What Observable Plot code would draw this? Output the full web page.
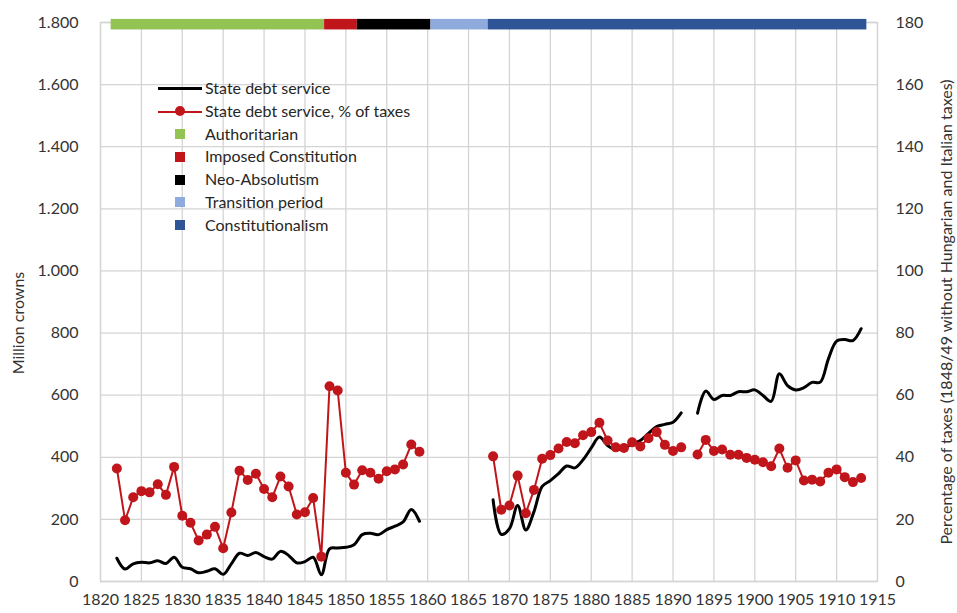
<!DOCTYPE html>
<html>
<head>
<meta charset="utf-8">
<script src="https://cdn.jsdelivr.net/npm/d3@7"></script>
<script src="https://cdn.jsdelivr.net/npm/@observablehq/plot@0.6"></script>
<style>
  html, body { margin: 0; padding: 0; background: #fff; }
  #wrap { position: relative; width: 957px; height: 613px; font-family: Lato, "Open Sans", sans-serif; }
  #legend { position: absolute; left: 158px; top: 77px; font-size: 16px; color: #262626; line-height: 22.8px; }
  .row { display: flex; align-items: center; height: 22.8px; }
  .sw { width: 47px; height: 22.8px; position: relative; flex: none; }
  .sq { position: absolute; left: 17px; top: 6.4px; width: 10px; height: 10px; }
  .ln { position: absolute; left: 0; width: 44px; top: 10.4px; }
  .dt { position: absolute; left: 17px; top: 6.4px; width: 10px; height: 10px; border-radius: 50%; }
</style>
</head>
<body>
<div id="wrap"><div id="legend"></div></div>
<script>
// ---------- data ----------
const years1 = d3.range(1822, 1860);   // 1822–1859
const years2 = d3.range(1868, 1914);   // 1868–1913

// State debt service, million crowns
const debt1 = [75, 40, 57, 62, 60, 67, 58, 78, 46, 41, 28, 33, 41, 23, 57, 91, 84, 93, 80, 72,
  97, 84, 60, 64, 78, 22, 105, 108, 110, 118, 151, 155, 151, 167, 178, 192, 232, 194];
const debt2 = [263, 152, 170, 245, 166, 225, 306, 325, 347, 372, 366, 392, 430, 465, 438, 424,
  430, 443, 454, 477, 499, 506, 513, 543, NaN, 542, 613, 586, 599, 599, 611, 611, 617, 599, 580,
  669, 631, 617, 624, 641, 642, 717, 774, 779, 776, 814];

// State debt service, % of taxes
const pct1 = [36.4, 19.7, 27.1, 29.1, 28.7, 31.3, 27.9, 36.9, 21.2, 18.9, 13.2, 15.1, 17.6, 10.7,
  22.2, 35.7, 32.7, 34.7, 29.8, 27.1, 33.8, 30.6, 21.6, 22.3, 26.9, 8.0, 62.9, 61.5, 35.0, 31.2,
  35.8, 35.0, 33.1, 35.5, 36.1, 37.7, 44.1, 41.8];
const pct2 = [40.3, 23.1, 24.5, 34.1, 22.0, 29.5, 39.5, 40.7, 42.8, 44.9, 44.5, 47.1, 48.1, 51.1,
  45.4, 43.2, 43.0, 44.8, 43.5, 46.1, 48.1, 44.0, 42.0, 43.2, NaN, 40.9, 45.6, 42.0, 42.5, 40.8,
  40.8, 39.8, 39.2, 38.4, 37.1, 42.8, 36.6, 39.0, 32.5, 32.8, 32.2, 35.0, 36.1, 33.6, 32.0, 33.3];

// Political periods (bar at top)
const periodNames  = ["Authoritarian", "Imposed Constitution", "Neo-Absolutism", "Transition period", "Constitutionalism"];
const periodStart  = [1821.3, 1847.4, 1851.4, 1860.4, 1867.4];
const periodEnd    = [1847.4, 1851.4, 1860.4, 1867.4, 1913.7];
const periodColors = ["#92c353", "#c0161b", "#000000", "#8faadc", "#2f5597"];

const seriesNames = ["State debt service", "State debt service, % of taxes"];

const xTicks = [1820, 1825, 1830, 1835, 1840, 1845, 1850, 1855, 1860, 1865, 1870, 1875, 1880,
  1885, 1890, 1895, 1900, 1905, 1910, 1915];
const yTicks = [0, 200, 400, 600, 800, 1000, 1200, 1400, 1600, 1800];
const yTicksRight = [0, 20, 40, 60, 80, 100, 120, 140, 160, 180];

const leftTitle = "Million crowns";
const rightTitle = "Percentage of taxes (1848/49 without Hungarian and Italian taxes)";

// ---------- tables ----------
const debt = [
  ...years1.map((y, i) => ({year: y, value: debt1[i], block: 1})),
  ...years2.map((y, i) => ({year: y, value: debt2[i], block: 2}))
];
const pct = [
  ...years1.map((y, i) => ({year: y, value: pct1[i], block: 1})),
  ...years2.map((y, i) => ({year: y, value: pct2[i], block: 2}))
];
const periods = periodNames.map((n, i) => ({name: n, x1: periodStart[i], x2: periodEnd[i], color: periodColors[i]}));

const red = "#c0161b";
const grid = "#d4d4d4";
const dot = d3.format(",");

const chart = Plot.plot({
  width: 957,
  height: 613,
  marginLeft: 100,
  marginRight: 80,
  marginTop: 22,
  marginBottom: 32,
  x: {domain: [1820, 1915]},
  y: {domain: [0, 1800]},
  style: {fontFamily: "Lato, 'Open Sans', sans-serif", fontSize: "16px", color: "#333", background: "white", overflow: "visible"},
  marks: [
    Plot.ruleX(xTicks, {stroke: grid, strokeWidth: 1.3}),
    Plot.ruleY(yTicks, {stroke: grid, strokeWidth: 1.3}),
    Plot.frame({stroke: grid, strokeWidth: 1.3}),
    Plot.axisX({ticks: xTicks, tickFormat: d => String(d), tickSize: 0, tickPadding: 12, label: null}),
    Plot.axisY({ticks: yTicks, tickFormat: d => dot(d).replace(/,/g, "."), tickSize: 0, tickPadding: 22, label: null}),
    Plot.axisY({anchor: "right", ticks: yTicks, tickFormat: (d, i) => String(yTicksRight[i]), tickSize: 0, tickPadding: 18, textAnchor: "start", label: null}),
    Plot.rect(periods, {x1: "x1", x2: "x2", y1: 1776, y2: 1810, fill: "color"}),
    Plot.line(debt, {x: "year", y: "value", z: "block", curve: "catmull-rom", stroke: "#000", strokeWidth: 3}),
    Plot.line(pct, {x: "year", y: d => d.value * 10, z: "block", stroke: red, strokeWidth: 2}),
    Plot.dot(pct, {x: "year", y: d => d.value * 10, r: 5, fill: red, stroke: "none"}),
    Plot.text([leftTitle], {text: d => d, frameAnchor: "left", textAnchor: "middle", dx: -82, dy: 21, rotate: -90, fill: "#333"}),
    Plot.text([rightTitle], {text: d => d, frameAnchor: "right", textAnchor: "middle", dx: 69, dy: 10, rotate: -90, fill: "#333"})
  ]
});
document.getElementById("wrap").prepend(chart);

// ---------- legend ----------
const legend = document.getElementById("legend");
const items = [
  {label: seriesNames[0], kind: "line", color: "#000"},
  {label: seriesNames[1], kind: "linedot", color: red},
  ...periodNames.map((n, i) => ({label: n, kind: "square", color: periodColors[i]}))
];
for (const it of items) {
  const row = document.createElement("div");
  row.className = "row";
  const sw = document.createElement("div");
  sw.className = "sw";
  if (it.kind === "line" || it.kind === "linedot") {
    const l = document.createElement("div");
    l.className = "ln";
    l.style.borderTop = (it.kind === "line" ? 3 : 2) + "px solid " + it.color;
    if (it.kind === "linedot") l.style.top = "10.9px";
    sw.appendChild(l);
    if (it.kind === "linedot") {
      const d = document.createElement("div");
      d.className = "dt";
      d.style.background = it.color;
      sw.appendChild(d);
    }
  } else {
    const s = document.createElement("div");
    s.className = "sq";
    s.style.background = it.color;
    sw.appendChild(s);
  }
  const t = document.createElement("span");
  t.textContent = it.label;
  row.appendChild(sw);
  row.appendChild(t);
  legend.appendChild(row);
}
</script>
</body>
</html>
